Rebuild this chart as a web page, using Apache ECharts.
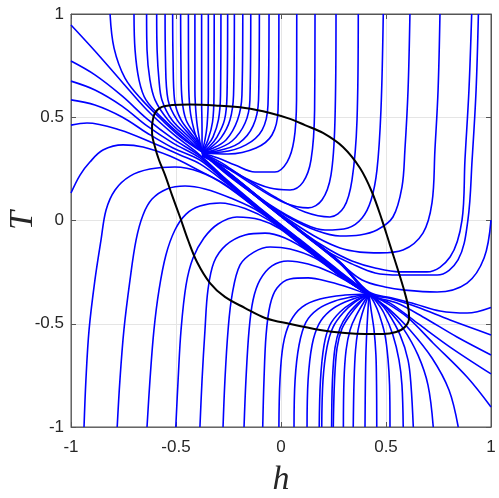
<!DOCTYPE html>
<html>
<head>
<meta charset="utf-8">
<script src="https://cdn.jsdelivr.net/npm/echarts@6/dist/echarts.min.js"></script>
<style>
html,body{margin:0;padding:0;background:#fff;}
#chart{width:499px;height:498px;}
</style>
</head>
<body>
<div id="chart"></div>
<script>
// Axis ticks
const xTicks = [-1, -0.5, 0, 0.5, 1];
const yTicks = [-1, -0.5, 0, 0.5, 1];

// Trajectories entering from the top and fanning into the upper node
const topFan = [
 [[-0.814,1],[-0.795,0.835],[-0.743,0.69],[-0.662,0.584],[-0.567,0.487],[-0.467,0.395],[-0.376,0.332]],
 [[-0.70,1],[-0.695,0.826],[-0.676,0.68],[-0.643,0.584],[-0.557,0.487],[-0.452,0.39],[-0.376,0.332]],
 [[-0.64,1],[-0.638,0.826],[-0.624,0.68],[-0.6,0.584],[-0.538,0.487],[-0.438,0.39],[-0.376,0.332]],
 [[-0.592,1],[-0.59,0.826],[-0.581,0.68],[-0.567,0.584],[-0.519,0.487],[-0.424,0.39],[-0.376,0.332]],
 [[-0.552,1],[-0.55,0.777],[-0.538,0.584],[-0.495,0.487],[-0.414,0.39],[-0.376,0.332]],
 [[-0.516,1],[-0.514,0.777],[-0.507,0.584],[-0.476,0.487],[-0.405,0.39],[-0.376,0.332]],
 [[-0.478,1],[-0.476,0.729],[-0.471,0.584],[-0.452,0.487],[-0.395,0.39],[-0.376,0.332]],
 [[-0.441,1],[-0.44,0.68],[-0.433,0.535],[-0.414,0.438],[-0.39,0.366],[-0.376,0.332]],
 [[-0.41,1],[-0.41,0.632],[-0.402,0.487],[-0.388,0.39],[-0.376,0.332]],
 [[-0.378,1],[-0.378,0.584],[-0.376,0.438],[-0.376,0.332]],
 [[-0.346,1],[-0.346,0.608],[-0.352,0.462],[-0.362,0.39],[-0.376,0.332]],
 [[-0.318,1],[-0.319,0.608],[-0.326,0.477],[-0.348,0.39],[-0.376,0.332]],
 [[-0.286,1],[-0.288,0.608],[-0.298,0.487],[-0.324,0.404],[-0.352,0.361],[-0.376,0.332]],
 [[-0.254,1],[-0.257,0.608],[-0.269,0.487],[-0.305,0.404],[-0.343,0.356],[-0.376,0.332]],
 [[-0.222,1],[-0.226,0.608],[-0.243,0.487],[-0.286,0.40],[-0.338,0.351],[-0.376,0.332]],
 [[-0.182,1],[-0.186,0.608],[-0.207,0.487],[-0.262,0.39],[-0.333,0.346],[-0.376,0.332]],
 [[-0.144,1],[-0.148,0.584],[-0.171,0.472],[-0.233,0.385],[-0.319,0.341],[-0.376,0.332]],
 [[-0.103,1],[-0.107,0.584],[-0.133,0.458],[-0.20,0.375],[-0.305,0.337],[-0.376,0.332]],
 [[-0.057,1],[-0.062,0.559],[-0.09,0.438],[-0.167,0.366],[-0.281,0.332],[-0.376,0.329]],
 [[-0.01,1],[-0.014,0.535],[-0.043,0.414],[-0.119,0.351],[-0.252,0.322],[-0.376,0.327]]
];

// Trajectories entering from the top right that hook left into the band
const topHooks = [
 [[0.075,1],[0.074,0.584],[0.062,0.39],[0.029,0.283],[-0.029,0.235],[-0.124,0.235],[-0.219,0.269],[-0.30,0.303],[-0.376,0.327]],
 [[0.162,1],[0.16,0.535],[0.143,0.293],[0.105,0.186],[0.043,0.148],[-0.052,0.157],[-0.171,0.206],[-0.281,0.278],[-0.376,0.327]],
 [[0.262,1],[0.257,0.487],[0.238,0.22],[0.195,0.099],[0.129,0.061],[0.019,0.085],[-0.11,0.157],[-0.243,0.245],[-0.376,0.322]],
 [[0.368,1],[0.362,0.487],[0.338,0.196],[0.30,0.065],[0.233,0.017],[0.114,0.041],[-0.029,0.114],[-0.195,0.22],[-0.376,0.317]],
 [[0.487,1],[0.476,0.535],[0.457,0.245],[0.429,0.099],[0.386,0.012],[0.319,-0.036],[0.21,-0.046],[0.09,-0.007],[-0.052,0.075],[-0.195,0.182],[-0.314,0.278],[-0.376,0.312]],
 [[0.614,1],[0.605,0.632],[0.59,0.341],[0.576,0.162],[0.533,0.017],[0.457,-0.046],[0.376,-0.07],[0.281,-0.075],[0.162,-0.046],[0.043,0.012],[-0.09,0.099],[-0.243,0.211],[-0.376,0.327]],
 [[0.757,1],[0.748,0.632],[0.733,0.341],[0.719,0.085],[0.676,-0.061],[0.581,-0.143],[0.471,-0.157],[0.376,-0.153],[0.281,-0.133],[0.176,-0.085],[0.067,-0.017],[-0.076,0.085],[-0.233,0.206],[-0.376,0.327]],
 [[0.908,1],[0.895,0.632],[0.876,0.293],[0.862,0.002],[0.805,-0.177],[0.695,-0.249],[0.567,-0.249],[0.448,-0.23],[0.338,-0.196],[0.233,-0.143],[0.114,-0.065],[-0.029,0.05],[-0.195,0.186],[-0.376,0.327]],
 [[0.94,1],[0.929,0.632],[0.91,0.293],[0.89,0.002],[0.843,-0.191],[0.743,-0.264],[0.567,-0.264],[0.448,-0.254],[0.338,-0.21],[0.233,-0.157],[0.114,-0.07],[-0.029,0.046],[-0.195,0.187],[-0.376,0.322]]
];

// Trajectories entering from the right edge
const rightEdge = [
 [[1,0.002],[0.967,-0.182],[0.886,-0.303],[0.743,-0.346],[0.59,-0.337],[0.495,-0.322],[0.386,-0.288],[0.281,-0.205],[0.114,-0.07],[-0.052,0.062],[-0.219,0.2],[-0.376,0.327]],
 [[1,-0.421],[0.886,-0.448],[0.757,-0.438],[0.638,-0.404],[0.529,-0.375],[0.419,-0.346],[0.281,-0.20],[0.09,-0.046],[-0.10,0.109],[-0.252,0.235],[-0.376,0.332]],
 [[1,-0.554],[0.805,-0.482],[0.648,-0.419],[0.529,-0.38],[0.419,-0.351],[0.281,-0.203],[0.09,-0.048],[-0.10,0.107],[-0.252,0.233],[-0.376,0.332]],
 [[1,-0.651],[0.838,-0.564],[0.676,-0.467],[0.552,-0.40],[0.419,-0.356],[0.281,-0.205],[0.09,-0.05],[-0.10,0.105],[-0.252,0.231],[-0.376,0.332]],
 [[1,-0.743],[0.805,-0.613],[0.648,-0.496],[0.519,-0.40],[0.419,-0.356],[0.281,-0.207],[0.09,-0.052],[-0.10,0.103],[-0.252,0.229],[-0.376,0.332]],
 [[1,-0.903],[0.886,-0.758],[0.724,-0.593],[0.60,-0.467],[0.486,-0.39],[0.419,-0.356],[0.281,-0.209],[0.09,-0.054],[-0.10,0.101],[-0.252,0.227],[-0.376,0.332]]
];

// Trajectories entering from the left edge
const leftEdge = [
 [[-1,0.947],[-0.886,0.821],[-0.757,0.671],[-0.638,0.535],[-0.514,0.419],[-0.386,0.317],[-0.267,0.205],[-0.10,0.06],[0.09,-0.092],[0.281,-0.247],[0.419,-0.354]],
 [[-1,0.772],[-0.886,0.705],[-0.757,0.603],[-0.638,0.492],[-0.514,0.395],[-0.386,0.312],[-0.267,0.20],[-0.10,0.058],[0.09,-0.095],[0.281,-0.25],[0.419,-0.356]],
 [[-1,0.675],[-0.886,0.632],[-0.757,0.554],[-0.638,0.458],[-0.514,0.375],[-0.386,0.303],[-0.267,0.196],[-0.10,0.055],[0.09,-0.097],[0.281,-0.252],[0.419,-0.356]],
 [[-1,0.584],[-0.886,0.559],[-0.757,0.501],[-0.638,0.424],[-0.514,0.351],[-0.386,0.293],[-0.267,0.192],[-0.10,0.053],[0.09,-0.10],[0.281,-0.255],[0.419,-0.356]],
 [[-1,0.462],[-0.924,0.472],[-0.767,0.438],[-0.61,0.375],[-0.481,0.317],[-0.386,0.274],[-0.267,0.186],[-0.10,0.05],[0.09,-0.102],[0.281,-0.257],[0.419,-0.358]],
 [[-1,0.133],[-0.957,0.22],[-0.91,0.283],[-0.848,0.341],[-0.752,0.366],[-0.657,0.356],[-0.529,0.312],[-0.386,0.24],[-0.267,0.175],[-0.10,0.046],[0.09,-0.105],[0.281,-0.26],[0.419,-0.358]]
];

// Trajectories entering from the bottom left that hook right into the band
const bottomHooks = [
 [[-0.938,-1],[-0.929,-0.773],[-0.914,-0.53],[-0.886,-0.288],[-0.857,-0.094],[-0.833,0.051],[-0.79,0.148],[-0.719,0.215],[-0.624,0.249],[-0.505,0.259],[-0.386,0.235],[-0.267,0.172],[-0.10,0.045],[0.09,-0.108],[0.281,-0.262],[0.419,-0.361]],
 [[-0.78,-1],[-0.767,-0.773],[-0.748,-0.53],[-0.719,-0.288],[-0.69,-0.094],[-0.657,0.027],[-0.614,0.104],[-0.543,0.153],[-0.457,0.167],[-0.362,0.153],[-0.243,0.11],[-0.10,0.04],[0.09,-0.11],[0.281,-0.264],[0.419,-0.361]],
 [[-0.638,-1],[-0.624,-0.773],[-0.605,-0.53],[-0.581,-0.337],[-0.548,-0.167],[-0.505,-0.046],[-0.452,0.031],[-0.386,0.07],[-0.29,0.085],[-0.171,0.058],[-0.052,-0.002],[0.09,-0.113],[0.281,-0.265],[0.419,-0.361]],
 [[-0.501,-1],[-0.49,-0.773],[-0.476,-0.53],[-0.452,-0.312],[-0.419,-0.182],[-0.367,-0.085],[-0.30,-0.017],[-0.21,0.017],[-0.10,0.004],[-0.005,-0.04],[0.114,-0.135],[0.281,-0.266],[0.419,-0.361]],
 [[-0.386,-1],[-0.376,-0.773],[-0.362,-0.53],[-0.348,-0.337],[-0.319,-0.201],[-0.262,-0.119],[-0.171,-0.07],[-0.076,-0.061],[0.019,-0.085],[0.138,-0.155],[0.281,-0.268],[0.419,-0.361]],
 [[-0.276,-1],[-0.267,-0.773],[-0.252,-0.53],[-0.233,-0.361],[-0.195,-0.215],[-0.129,-0.153],[-0.052,-0.128],[0.043,-0.138],[0.162,-0.182],[0.281,-0.268],[0.419,-0.361]],
 [[-0.176,-1],[-0.167,-0.773],[-0.152,-0.53],[-0.133,-0.385],[-0.10,-0.288],[-0.043,-0.22],[0.033,-0.196],[0.129,-0.211],[0.233,-0.249],[0.329,-0.303],[0.419,-0.361]],
 [[-0.087,-1],[-0.081,-0.773],[-0.071,-0.554],[-0.052,-0.409],[-0.019,-0.327],[0.043,-0.283],[0.129,-0.278],[0.233,-0.298],[0.329,-0.327],[0.419,-0.361]]
];

// Trajectories entering from the bottom and fanning into the lower node
const bottomFan = [
 [[-0.01,-1],[-0.005,-0.773],[0.01,-0.603],[0.043,-0.492],[0.10,-0.419],[0.186,-0.38],[0.305,-0.361],[0.419,-0.356]],
 [[0.062,-1],[0.067,-0.773],[0.086,-0.603],[0.119,-0.492],[0.176,-0.429],[0.257,-0.39],[0.338,-0.37],[0.419,-0.356]],
 [[0.124,-1],[0.129,-0.773],[0.148,-0.603],[0.181,-0.501],[0.233,-0.438],[0.305,-0.395],[0.419,-0.356]],
 [[0.182,-1],[0.188,-0.773],[0.205,-0.603],[0.233,-0.506],[0.281,-0.443],[0.343,-0.395],[0.419,-0.356]],
 [[0.194,-1],[0.2,-0.773],[0.219,-0.613],[0.248,-0.516],[0.295,-0.448],[0.352,-0.395],[0.419,-0.356]],
 [[0.241,-1],[0.245,-0.773],[0.257,-0.617],[0.281,-0.521],[0.319,-0.453],[0.367,-0.40],[0.419,-0.356]],
 [[0.249,-1],[0.255,-0.773],[0.267,-0.617],[0.29,-0.525],[0.329,-0.458],[0.371,-0.404],[0.419,-0.356]],
 [[0.297,-1],[0.30,-0.773],[0.31,-0.627],[0.329,-0.53],[0.357,-0.462],[0.419,-0.356]],
 [[0.344,-1],[0.348,-0.773],[0.355,-0.627],[0.367,-0.53],[0.386,-0.453],[0.419,-0.356]],
 [[0.40,-1],[0.402,-0.773],[0.405,-0.627],[0.41,-0.506],[0.419,-0.356]],
 [[0.456,-1],[0.455,-0.797],[0.452,-0.651],[0.443,-0.53],[0.429,-0.433],[0.419,-0.356]],
 [[0.519,-1],[0.517,-0.797],[0.51,-0.676],[0.495,-0.554],[0.467,-0.453],[0.443,-0.395],[0.419,-0.356]],
 [[0.582,-1],[0.576,-0.797],[0.562,-0.676],[0.533,-0.554],[0.49,-0.448],[0.452,-0.39],[0.419,-0.356]],
 [[0.63,-1],[0.619,-0.797],[0.605,-0.676],[0.567,-0.554],[0.51,-0.448],[0.462,-0.39],[0.419,-0.356]],
 [[0.725,-1],[0.70,-0.797],[0.652,-0.651],[0.581,-0.521],[0.51,-0.433],[0.452,-0.38],[0.419,-0.356]],
 [[0.844,-1],[0.80,-0.821],[0.719,-0.666],[0.614,-0.53],[0.519,-0.433],[0.457,-0.385],[0.419,-0.356]]
];

// Black closed boundary curve
const boundary = [
 [-0.614,0.462],[-0.6,0.521],[-0.567,0.55],[-0.519,0.559],[-0.433,0.562],[-0.314,0.557],[-0.171,0.545],
 [-0.052,0.521],[0.043,0.492],[0.114,0.462],[0.2,0.424],[0.295,0.356],[0.376,0.254],[0.433,0.138],
 [0.481,0.002],[0.519,-0.119],[0.557,-0.24],[0.586,-0.337],[0.605,-0.414],[0.61,-0.472],[0.59,-0.516],
 [0.548,-0.54],[0.486,-0.55],[0.4,-0.55],[0.305,-0.545],[0.186,-0.53],[0.043,-0.501],[-0.076,-0.472],
 [-0.171,-0.424],[-0.267,-0.37],[-0.338,-0.303],[-0.4,-0.201],[-0.443,-0.094],[-0.481,0.017],
 [-0.519,0.123],[-0.552,0.22],[-0.581,0.293],[-0.6,0.356],[-0.614,0.424],[-0.614,0.462]
];

const blueCurves = [].concat(topFan, topHooks, rightEdge, leftEdge, bottomHooks, bottomFan);

const series = blueCurves.map(function (c) {
  return {
    type: 'line', data: c, showSymbol: false, smooth: 0.35, silent: true,
    lineStyle: { color: '#0000ff', width: 1.6 }, z: 2
  };
});
series.push({
  type: 'line', data: boundary, showSymbol: false, smooth: 0.35, silent: true,
  lineStyle: { color: '#000000', width: 2 }, z: 3
});

const chart = echarts.init(document.getElementById('chart'), null, { renderer: 'canvas' });
chart.setOption({
  animation: false,
  backgroundColor: '#ffffff',
  grid: { left: 71, right: 8, top: 14, bottom: 71, containLabel: false, outerBoundsMode: 'none',
          show: true, borderColor: '#555', borderWidth: 1 },
  xAxis: [{
    type: 'value', min: xTicks[0], max: xTicks[xTicks.length - 1], interval: 0.5,
    name: 'h', nameLocation: 'middle', nameGap: 36, nameMoveOverlap: false,
    nameTextStyle: { fontFamily: 'Liberation Serif', fontStyle: 'italic', fontSize: 34, color: '#262626' },
    axisLine: { show: true, onZero: false, lineStyle: { color: '#666' } },
    axisTick: { show: true, inside: true, length: 5, lineStyle: { color: '#555' } },
    axisLabel: { fontFamily: 'Liberation Sans', fontSize: 17, color: '#262626', margin: 12 },
    splitLine: { show: true, lineStyle: { color: '#e5e5e5', width: 1 } }
  }, {
    type: 'value', position: 'top', min: xTicks[0], max: xTicks[xTicks.length - 1], interval: 0.5,
    axisLine: { show: true, onZero: false, lineStyle: { color: '#555' } },
    axisTick: { show: true, inside: true, length: 5, lineStyle: { color: '#555' } },
    axisLabel: { show: false }, splitLine: { show: false }
  }],
  yAxis: [{
    type: 'value', min: yTicks[0], max: yTicks[yTicks.length - 1], interval: 0.5,
    name: 'T', nameLocation: 'middle', nameGap: 31, nameMoveOverlap: false,
    nameTextStyle: { fontFamily: 'Liberation Serif', fontStyle: 'italic', fontSize: 34, color: '#262626' },
    axisLine: { show: true, onZero: false, lineStyle: { color: '#666' } },
    axisTick: { show: true, inside: true, length: 5, lineStyle: { color: '#555' } },
    axisLabel: { fontFamily: 'Liberation Sans', fontSize: 17, color: '#262626', margin: 7 },
    splitLine: { show: true, lineStyle: { color: '#e5e5e5', width: 1 } }
  }, {
    type: 'value', position: 'right', min: yTicks[0], max: yTicks[yTicks.length - 1], interval: 0.5,
    axisLine: { show: true, onZero: false, lineStyle: { color: '#555' } },
    axisTick: { show: true, inside: true, length: 5, lineStyle: { color: '#555' } },
    axisLabel: { show: false }, splitLine: { show: false }
  }],
  series: series
});
</script>
</body>
</html>
